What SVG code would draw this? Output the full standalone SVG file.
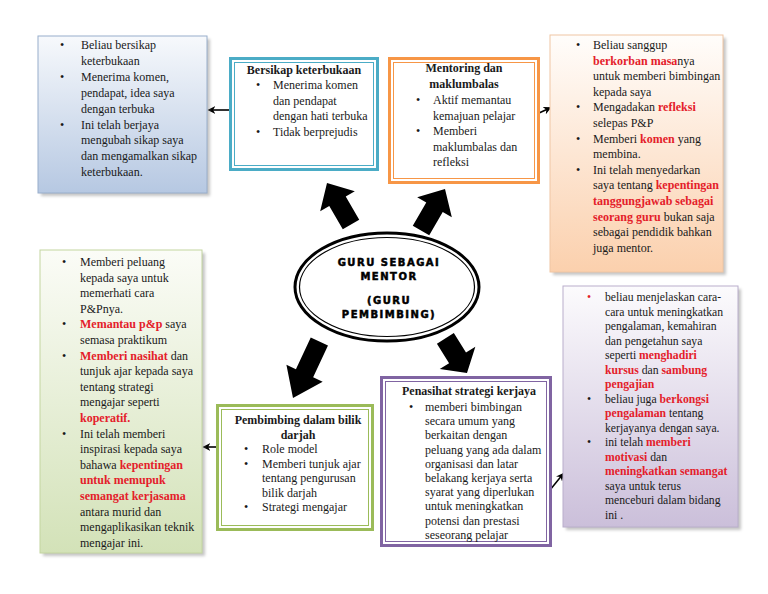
<svg xmlns="http://www.w3.org/2000/svg" width="768" height="594" viewBox="0 0 768 594">
<defs>
<style>
text{font-family:"Liberation Serif","Times New Roman",serif;font-size:12px;fill:#1a1a1a}
.b{font-weight:bold}
.r{font-weight:bold;fill:#e4202a}
.s{font-size:11.7px}
.t{font-weight:bold;text-anchor:middle}
.c{font-family:"DejaVu Sans","Liberation Sans",sans-serif;font-weight:bold;font-size:10px;letter-spacing:1.5px;text-anchor:middle;fill:#000;stroke:#000;stroke-width:0.5}
.sh{fill:#7f7f7f;opacity:0.45;filter:url(#blur)}
.big{fill:#000}
.thin{stroke:#000;stroke-width:1.6;fill:none}
</style>
<filter id="blur" x="-10%" y="-10%" width="120%" height="120%"><feGaussianBlur stdDeviation="1.5"/></filter>
<linearGradient id="gBlue" x1="0" y1="0" x2="0" y2="1"><stop offset="0" stop-color="#f7f9fc"/><stop offset="1" stop-color="#b6c8e2"/></linearGradient>
<linearGradient id="gOrange" x1="0" y1="0" x2="0" y2="1"><stop offset="0" stop-color="#fffdfb"/><stop offset="1" stop-color="#fbd0ad"/></linearGradient>
<linearGradient id="gGreen" x1="0" y1="0" x2="0" y2="1"><stop offset="0" stop-color="#fbfcf7"/><stop offset="1" stop-color="#d3e2b8"/></linearGradient>
<linearGradient id="gPurple" x1="0" y1="0" x2="0" y2="1"><stop offset="0" stop-color="#fcfbfd"/><stop offset="1" stop-color="#cbbfda"/></linearGradient>
<marker id="ah" viewBox="0 0 10 10" refX="8" refY="5" markerWidth="5" markerHeight="5" orient="auto"><path d="M0,0 L10,5 L0,10 L3,5 Z" fill="#000"/></marker>
<polygon id="bigArrow" points="0,0 20,21 9.5,21 9.5,48 -9.5,48 -9.5,21 -20,21"/>
</defs>
<rect width="768" height="594" fill="#fff"/>

<g id="connectors">
<use href="#bigArrow" class="big" transform="translate(327,183) rotate(-30)"/>
<use href="#bigArrow" class="big" transform="translate(445,189) rotate(30)"/>
<use href="#bigArrow" class="big" transform="translate(293,398) rotate(-155) scale(1,1.3)"/>
<use href="#bigArrow" class="big" transform="translate(467,373) rotate(148) scale(1.05,0.85)"/>
<line class="thin" x1="229" y1="110" x2="209" y2="110" marker-end="url(#ah)"/>
<line class="thin" x1="539" y1="113" x2="550" y2="108" marker-end="url(#ah)"/>
<line class="thin" x1="216" y1="447" x2="204" y2="447" marker-end="url(#ah)"/>
<line class="thin" x1="550" y1="490" x2="563" y2="474" marker-end="url(#ah)"/>
</g>

<g id="center">
<ellipse cx="387" cy="287" rx="92" ry="54" fill="#fff" stroke="#000" stroke-width="3"/>
<ellipse cx="387" cy="287" rx="87.5" ry="49.5" fill="none" stroke="#000" stroke-width="1.2"/>
<text class="c" x="389" y="266">GURU SEBAGAI</text>
<text class="c" x="389" y="280">MENTOR</text>
<text class="c" x="389" y="304">(GURU</text>
<text class="c" x="389" y="318">PEMBIMBING)</text>
</g>

<g id="box1">
<rect class="sh" x="41" y="39" width="169" height="157"/>
<rect x="38" y="36" width="169" height="157" fill="url(#gBlue)" stroke="#98aecb" stroke-width="1"/>
<text x="60" y="49">•</text><text x="81" y="49">Beliau bersikap</text>
<text x="81" y="64.9">keterbukaan</text>
<text x="60" y="80.8">•</text><text x="81" y="80.8">Menerima komen,</text>
<text x="81" y="96.7">pendapat, idea saya</text>
<text x="81" y="112.6">dengan terbuka</text>
<text x="60" y="128.5">•</text><text x="81" y="128.5">Ini telah berjaya</text>
<text x="81" y="144.4">mengubah sikap saya</text>
<text x="81" y="160.3">dan mengamalkan sikap</text>
<text x="81" y="176.2">keterbukaan.</text>
</g>

<g id="box2">
<rect x="230.5" y="58.5" width="147" height="111" fill="#fff" stroke="#4bacc6" stroke-width="3"/>
<rect x="234.5" y="62.5" width="139" height="103" fill="none" stroke="#4bacc6" stroke-width="1"/>
<text class="t" x="304" y="74">Bersikap keterbukaan</text>
<text x="256" y="89">•</text><text x="273" y="89">Menerima komen</text>
<text x="273" y="104.5">dan pendapat</text>
<text x="273" y="120">dengan hati terbuka</text>
<text x="256" y="135.5">•</text><text x="273" y="135.5">Tidak berprejudis</text>
</g>

<g id="box3">
<rect x="389.5" y="58.5" width="149" height="124" fill="#fff" stroke="#f79646" stroke-width="3"/>
<rect x="393.5" y="62.5" width="141" height="116" fill="none" stroke="#f79646" stroke-width="1"/>
<text class="t" x="464" y="72">Mentoring dan</text>
<text class="t" x="464" y="87.5">maklumbalas</text>
<text x="416" y="104">•</text><text x="433" y="104">Aktif memantau</text>
<text x="433" y="119.5">kemajuan pelajar</text>
<text x="416" y="135">•</text><text x="433" y="135">Memberi</text>
<text x="433" y="150.5">maklumbalas dan</text>
<text x="433" y="166">refleksi</text>
</g>

<g id="box4">
<rect class="sh" x="553" y="38" width="173" height="237"/>
<rect x="550" y="35" width="173" height="237" fill="url(#gOrange)" stroke="#f0c6a3" stroke-width="1"/>
<text x="576" y="49">•</text><text x="593" y="49">Beliau sanggup</text>
<text x="593" y="64.6"><tspan class="r">berkorban masa</tspan>nya</text>
<text x="593" y="80.2">untuk memberi bimbingan</text>
<text x="593" y="95.8">kepada saya</text>
<text x="576" y="111.4">•</text><text x="593" y="111.4">Mengadakan <tspan class="r">refleksi</tspan></text>
<text x="593" y="127">selepas P&amp;P</text>
<text x="576" y="142.6">•</text><text x="593" y="142.6">Memberi <tspan class="r">komen</tspan> yang</text>
<text x="593" y="158.2">membina.</text>
<text x="576" y="173.8">•</text><text x="593" y="173.8">Ini telah menyedarkan</text>
<text x="593" y="189.4">saya tentang <tspan class="r">kepentingan</tspan></text>
<text x="593" y="205" class="r">tanggungjawab sebagai</text>
<text x="593" y="220.6"><tspan class="r">seorang guru</tspan> bukan saja</text>
<text x="593" y="236.2">sebagai pendidik bahkan</text>
<text x="593" y="251.8">juga mentor.</text>
</g>

<g id="box5">
<rect class="sh" x="43" y="253" width="162" height="303"/>
<rect x="40" y="250" width="162" height="303" fill="url(#gGreen)" stroke="#c3d5a0" stroke-width="1"/>
<text x="62" y="266">•</text><text x="80" y="266">Memberi peluang</text>
<text x="80" y="281.6">kepada saya untuk</text>
<text x="80" y="297.2">memerhati cara</text>
<text x="80" y="312.8">P&amp;Pnya.</text>
<text x="62" y="328.4">•</text><text x="80" y="328.4"><tspan class="r">Memantau p&amp;p</tspan> saya</text>
<text x="80" y="344">semasa praktikum</text>
<text x="62" y="359.6">•</text><text x="80" y="359.6"><tspan class="r">Memberi nasihat</tspan> dan</text>
<text x="80" y="375.2">tunjuk ajar kepada saya</text>
<text x="80" y="390.8">tentang strategi</text>
<text x="80" y="406.4">mengajar seperti</text>
<text x="80" y="422" class="r">koperatif.</text>
<text x="62" y="437.6">•</text><text x="80" y="437.6">Ini telah memberi</text>
<text x="80" y="453.2">inspirasi kepada saya</text>
<text x="80" y="468.8">bahawa <tspan class="r">kepentingan</tspan></text>
<text x="80" y="484.4" class="r">untuk memupuk</text>
<text x="80" y="500" class="r">semangat kerjasama</text>
<text x="80" y="515.6">antara murid dan</text>
<text x="80" y="531.2">mengaplikasikan teknik</text>
<text x="80" y="546.8">mengajar ini.</text>
</g>

<g id="box6">
<rect x="217.5" y="405.5" width="155" height="124" fill="#fff" stroke="#9bbb59" stroke-width="3"/>
<rect x="221.5" y="409.5" width="147" height="116" fill="none" stroke="#9bbb59" stroke-width="1"/>
<text class="t" x="298" y="424">Pembimbing dalam bilik</text>
<text class="t" x="298" y="438.5">darjah</text>
<text x="244" y="453">•</text><text x="262" y="453">Role model</text>
<text x="244" y="467.5">•</text><text x="262" y="467.5">Memberi tunjuk ajar</text>
<text x="262" y="482">tentang pengurusan</text>
<text x="262" y="496.5">bilik darjah</text>
<text x="244" y="511">•</text><text x="262" y="511">Strategi mengajar</text>
</g>

<g id="box7">
<rect x="381.5" y="377.5" width="169" height="168" fill="#fff" stroke="#8064a2" stroke-width="3"/>
<rect x="385.5" y="381.5" width="161" height="160" fill="none" stroke="#8064a2" stroke-width="1"/>
<text x="402" y="395" class="b">Penasihat strategi kerjaya</text>
<text x="409" y="411">•</text><text x="425" y="411">memberi bimbingan</text>
<text x="425" y="425.2">secara umum yang</text>
<text x="425" y="439.4">berkaitan dengan</text>
<text x="425" y="453.6">peluang yang ada dalam</text>
<text x="425" y="467.8">organisasi dan latar</text>
<text x="425" y="482">belakang kerjaya serta</text>
<text x="425" y="496.2">syarat yang diperlukan</text>
<text x="425" y="510.4">untuk meningkatkan</text>
<text x="425" y="524.6">potensi dan prestasi</text>
<text x="425" y="538.8">seseorang pelajar</text>
</g>

<g id="box8">
<rect class="sh" x="566" y="289" width="175" height="241"/>
<rect x="563" y="286" width="175" height="241" fill="url(#gPurple)" stroke="#b9aecb" stroke-width="1"/>
<text class="s" x="587" y="301" style="fill:#e4202a">•</text><text class="s" x="605" y="301">beliau menjelaskan cara-</text>
<text class="s" x="605" y="315.5">cara untuk meningkatkan</text>
<text class="s" x="605" y="330">pengalaman, kemahiran</text>
<text class="s" x="605" y="344.5">dan pengetahun saya</text>
<text class="s" x="605" y="359">seperti <tspan class="r">menghadiri</tspan></text>
<text class="s" x="605" y="373.5"><tspan class="r">kursus</tspan> dan <tspan class="r">sambung</tspan></text>
<text class="s r" x="605" y="388">pengajian</text>
<text class="s" x="587" y="402.5">•</text><text class="s" x="605" y="402.5">beliau juga <tspan class="r">berkongsi</tspan></text>
<text class="s" x="605" y="417"><tspan class="r">pengalaman</tspan> tentang</text>
<text class="s" x="605" y="431.5">kerjayanya dengan saya.</text>
<text class="s" x="587" y="446">•</text><text class="s" x="605" y="446">ini telah <tspan class="r">memberi</tspan></text>
<text class="s" x="605" y="460.5"><tspan class="r">motivasi</tspan> dan</text>
<text class="s r" x="605" y="475">meningkatkan semangat</text>
<text class="s" x="605" y="489.5">saya untuk terus</text>
<text class="s" x="605" y="504">menceburi dalam bidang</text>
<text class="s" x="605" y="518.5">ini .</text>
</g>
</svg>
